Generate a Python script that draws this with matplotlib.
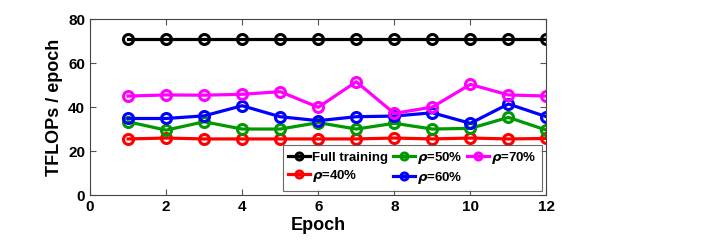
import matplotlib.pyplot as plt

plt.rcParams['font.family'] = ['Liberation Sans', 'DejaVu Sans']
plt.rcParams['font.weight'] = 'bold'
plt.rcParams['mathtext.fontset'] = 'dejavusans'

epochs = [1, 2, 3, 4, 5, 6, 7, 8, 9, 10, 11, 12]
full_training = [71, 71, 71, 71, 71, 71, 71, 71, 71, 71, 71, 71]
rho_40 = [25.5, 25.9, 25.5, 25.5, 25.5, 25.5, 25.5, 25.9, 25.5, 25.9, 25.5, 25.7]
rho_50 = [33.3, 29.5, 33.3, 30.0, 30.0, 32.9, 30.0, 32.6, 30.0, 30.3, 35.3, 29.5]
rho_60 = [34.8, 34.8, 36.0, 40.6, 35.6, 33.8, 35.6, 35.9, 37.4, 32.6, 41.4, 35.6]
rho_70 = [45.0, 45.5, 45.4, 45.8, 47.0, 39.9, 51.5, 37.1, 40.0, 50.3, 45.5, 45.0]

series = [
    ("Full training", full_training, "black"),
    (r"$\rho$=40%", rho_40, "red"),
    (r"$\rho$=50%", rho_50, "#009900"),
    (r"$\rho$=60%", rho_60, "blue"),
    (r"$\rho$=70%", rho_70, "magenta"),
]

fig = plt.figure(figsize=(7.06, 2.48), dpi=100)
ax = fig.add_axes([0.1275, 0.2137, 0.6465, 0.7093])

for label, vals, color in series:
    ax.plot(epochs, vals, '-o', color=color, lw=2.3, ms=7.2,
            mfc='none', mew=2.2, label=label)

ax.set_xlim(0, 12)
ax.set_ylim(0, 80)
ax.set_xticks(range(0, 13, 2))
ax.set_yticks(range(0, 81, 20))
ax.tick_params(direction='in', top=True, right=True, labelsize=11,
               color='#555555', length=4)
for s in ax.spines.values():
    s.set_color('#444444')
    s.set_linewidth(0.8)

ax.set_xlabel("Epoch", fontsize=13, fontweight='bold', labelpad=2)
ax.set_ylabel("TFLOPs / epoch", fontsize=13, fontweight='bold')

leg = ax.legend(ncol=3, loc='lower right', bbox_to_anchor=(0.995, 0.01),
                fontsize=9.5, handlelength=1.7, handletextpad=0.15,
                columnspacing=0.35, labelspacing=0.3, borderpad=0.35,
                markerscale=0.7, frameon=True, fancybox=False,
                edgecolor='#444444', borderaxespad=0.2)
leg.get_frame().set_linewidth(0.8)

fig.savefig("out.png", dpi=100)
